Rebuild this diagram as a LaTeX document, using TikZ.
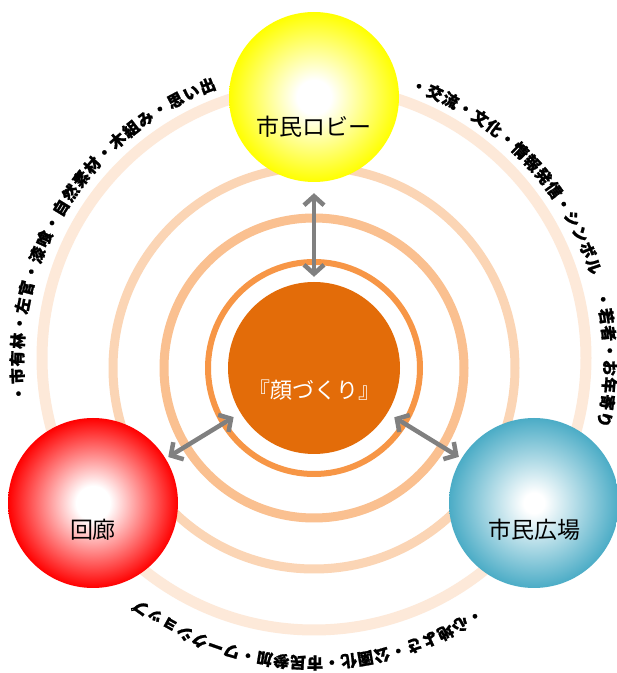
\documentclass[tikz,border=0pt]{standalone}
\usepackage{fontspec}
\setmainfont{Noto Sans CJK JP}
\newfontfamily\curvejp{Noto Sans CJK JP}[FakeBold=1.2]
\usetikzlibrary{decorations.text, arrows.meta}
\definecolor{ringA}{HTML}{F79646}
\definecolor{ringB}{HTML}{FAC090}
\definecolor{ringC}{HTML}{FBD5B5}
\definecolor{ringD}{HTML}{FDE9D9}
\definecolor{faceorange}{HTML}{E36C09}
\definecolor{arrowgray}{HTML}{808080}
\definecolor{ballyellow}{HTML}{FFFF00}
\definecolor{ballred}{HTML}{FF0000}
\definecolor{ballblue}{HTML}{4BACC6}
\pgfdeclareradialshading{yellowball}{\pgfpoint{0bp}{0bp}}{color(0bp)=(white); color(5bp)=(white); color(25bp)=(ballyellow); color(50bp)=(ballyellow)}
\pgfdeclareradialshading{redball}{\pgfpoint{0bp}{0bp}}{color(0bp)=(white); color(5bp)=(white); color(25bp)=(ballred); color(50bp)=(ballred)}
\pgfdeclareradialshading{blueball}{\pgfpoint{0bp}{0bp}}{color(0bp)=(white); color(3bp)=(white); color(25bp)=(ballblue); color(50bp)=(ballblue)}
\newcommand{\curvefont}{\curvejp\bfseries\fontsize{16}{16}\selectfont}
\begin{document}
\begin{tikzpicture}[x=1pt, y=1pt,
  ball/.style={circle, minimum size=170, inner sep=0pt},
  balltext/.style={font=\fontsize{23}{23}\selectfont, text=black},
  face/.style={circle, minimum size=172, inner sep=0pt, fill=faceorange},
  facetext/.style={font=\fontsize{22}{22}\selectfont, text=white},
  link/.style={draw=arrowgray, line width=4.5, >={Straight Barb[length=9pt, width=20pt]}, <->},
  curved/.style={decorate, decoration={text along path, text align={fit to path}}}]
\useasboundingbox (0,0) rectangle (617,673);
\fill[white] (0,0) rectangle (617,673);
% rings
\draw[ringD, line width=11] (314,315) circle[radius=272];
\draw[ringC, line width=9] (314,305) circle[radius=201];
\draw[ringB, line width=9] (314,305) circle[radius=150];
\draw[ringA, line width=6] (314,305) circle[radius=106];
% curved texts
\path[curved, decoration={text={|\curvefont|・市有林・左官・漆喰・自然素材・木組み・思い出}}]
  (314,310) ++(187.5:291) arc[start angle=187.5, end angle=109.5, radius=291];
\path[curved, decoration={text={|\curvefont|・交流・文化・情報発信・シンボル　・若者・お年寄り}}]
  (314,310) ++(70.8:290) arc[start angle=70.8, end angle=-12.5, radius=290];
\path[curved, decoration={text={|\curvefont|・心地よさ・公園化・市民参加・ワークショップ}}]
  (314,310) ++(-56:294) arc[start angle=-56, end angle=-126.8, radius=294];
% central circle
\node[face] (face) at (314,305) {};
\node[facetext] at ([yshift=-22]face.center) {『顔づくり』};
% balls
\node[ball, shade, shading=yellowball] (lobby) at (314,576) {};
\node[ball, shade, shading=redball] (corridor) at (93,170) {};
\node[ball, shade, shading=blueball] (plaza) at (534,170) {};
\node[balltext] at ([yshift=-30]lobby.center) {市民ロビー};
\node[balltext] at ([yshift=-27]corridor.center) {回廊};
\node[balltext] at ([yshift=-27]plaza.center) {市民広場};
% arrows
\draw[link, shorten <=5, shorten >=11] (face) -- (lobby);
\draw[link, shorten <=8, shorten >=3] (face) -- (corridor);
\draw[link, shorten <=8, shorten >=3] (face) -- (plaza);
\end{tikzpicture}
\end{document}
